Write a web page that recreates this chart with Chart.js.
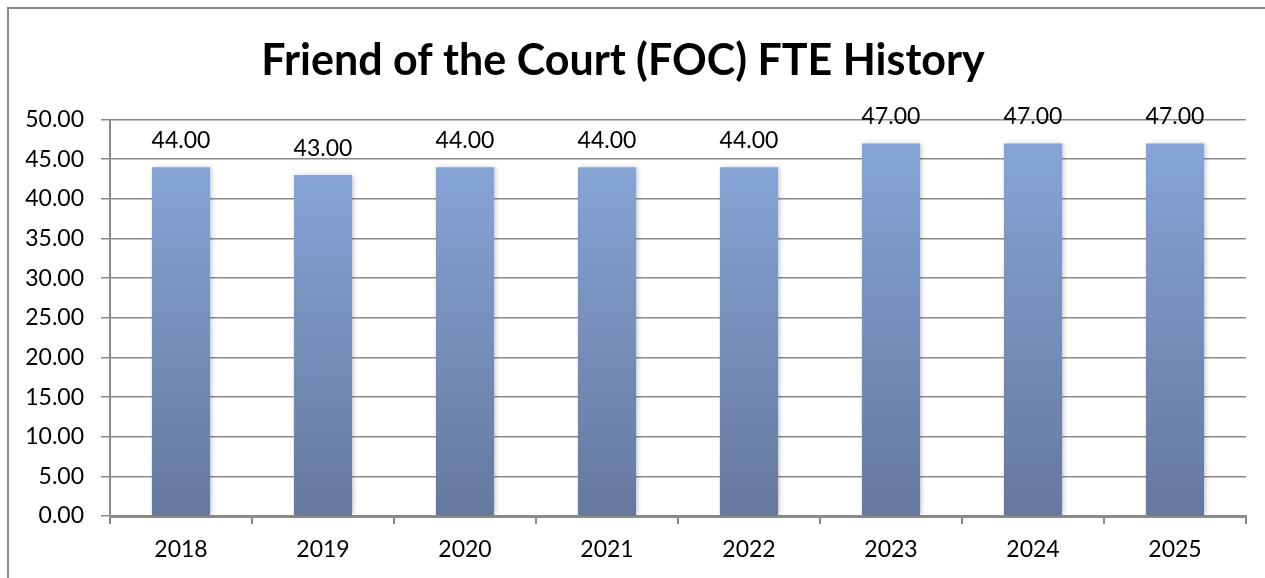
<!DOCTYPE html>
<html>
<head>
<meta charset="utf-8">
<script src="https://cdn.jsdelivr.net/npm/chart.js@4.4.1/dist/chart.umd.min.js"></script>
<style>
  html, body { margin: 0; padding: 0; background: #fff; }
  #wrap { position: relative; width: 1265px; height: 578px; }
  #frame { position: absolute; left: 7px; top: 7px; width: 1265px; height: 578px;
           border-left: 2px solid #8a8a8a; border-top: 2px solid #8a8a8a; box-sizing: border-box; }
  canvas { position: absolute; left: 0; top: 0; }
</style>
</head>
<body>
<div id="wrap">
  <div id="frame"></div>
  <canvas id="fteChart" width="1265" height="578"></canvas>
</div>
<script>
// chart data
const years = ['2018', '2019', '2020', '2021', '2022', '2023', '2024', '2025'];
const fteValues = [44, 43, 44, 44, 44, 47, 47, 47];
const yTicks = { min: 0, max: 50, step: 5 };
const chartTitle = 'Friend of the Court (FOC) FTE History';

const FONT = 'Lato, "Open Sans", sans-serif';

// per-bar vertical gradient, light at the top, darker at the axis
const barGradient = (context) => {
    const chart = context.chart;
    const { ctx, chartArea, scales } = chart;
    if (!chartArea) return '#85A3D5';
    const top = scales.y.getPixelForValue(context.raw);
    const bottom = scales.y.getPixelForValue(0);
    const g = ctx.createLinearGradient(0, top, 0, bottom);
    g.addColorStop(0, '#86A4D6');
    g.addColorStop(1, '#65789F');
    return g;
};

// soft shadow behind the bars
const barShadow = {
    id: 'barShadow',
    beforeDatasetsDraw(chart) {
        const ctx = chart.ctx;
        ctx.save();
        ctx.shadowColor = 'rgba(0, 0, 0, 0.22)';
        ctx.shadowBlur = 5;
        ctx.shadowOffsetX = 2;
        ctx.shadowOffsetY = 0;
    },
    afterDatasetsDraw(chart) {
        chart.ctx.restore();
    }
};

// value labels above each bar
const valueLabels = {
    id: 'valueLabels',
    afterDatasetsDraw(chart) {
        const ctx = chart.ctx;
        const meta = chart.getDatasetMeta(0);
        ctx.save();
        ctx.font = '23px ' + FONT;
        ctx.fillStyle = '#000';
        ctx.textAlign = 'center';
        ctx.textBaseline = 'bottom';
        meta.data.forEach((bar, i) => {
            ctx.fillText(fteValues[i].toFixed(2), bar.x, bar.y - 15);
        });
        ctx.restore();
    }
};

const ctx = document.getElementById('fteChart').getContext('2d');
new Chart(ctx, {
    type: 'bar',
    data: {
        labels: years,
        datasets: [{
            data: fteValues,
            backgroundColor: barGradient,
            borderWidth: 0,
            categoryPercentage: 1,
            barPercentage: 0.41
        }]
    },
    options: {
        responsive: false,
        animation: false,
        layout: { padding: { left: 0, right: 19, top: 0, bottom: 0 } },
        plugins: {
            legend: { display: false },
            tooltip: { enabled: false },
            title: {
                display: true,
                text: chartTitle,
                color: '#000',
                font: { family: FONT, size: 43, weight: 'bold', lineHeight: 1.2 },
                padding: { top: 35, bottom: 33 }
            }
        },
        scales: {
            x: {
                grid: {
                    drawOnChartArea: false,
                    drawTicks: true,
                    tickLength: 8,
                    color: '#8a8a8a',
                    lineWidth: 2
                },
                border: { color: '#8a8a8a', width: 3 },
                ticks: {
                    color: '#000',
                    font: { family: FONT, size: 23 },
                    padding: 12
                },
                afterFit: (scale) => { scale.height = 62; }
            },
            y: {
                min: yTicks.min,
                max: yTicks.max,
                grid: {
                    color: '#8a8a8a',
                    lineWidth: 1.5,
                    tickLength: 9
                },
                border: { color: '#8a8a8a', width: 2 },
                ticks: {
                    stepSize: yTicks.step,
                    color: '#000',
                    font: { family: FONT, size: 23 },
                    padding: 17,
                    callback: (v) => Number(v).toFixed(2)
                },
                afterFit: (scale) => { scale.width = 110; }
            }
        }
    },
    plugins: [barShadow, valueLabels]
});
</script>
</body>
</html>
